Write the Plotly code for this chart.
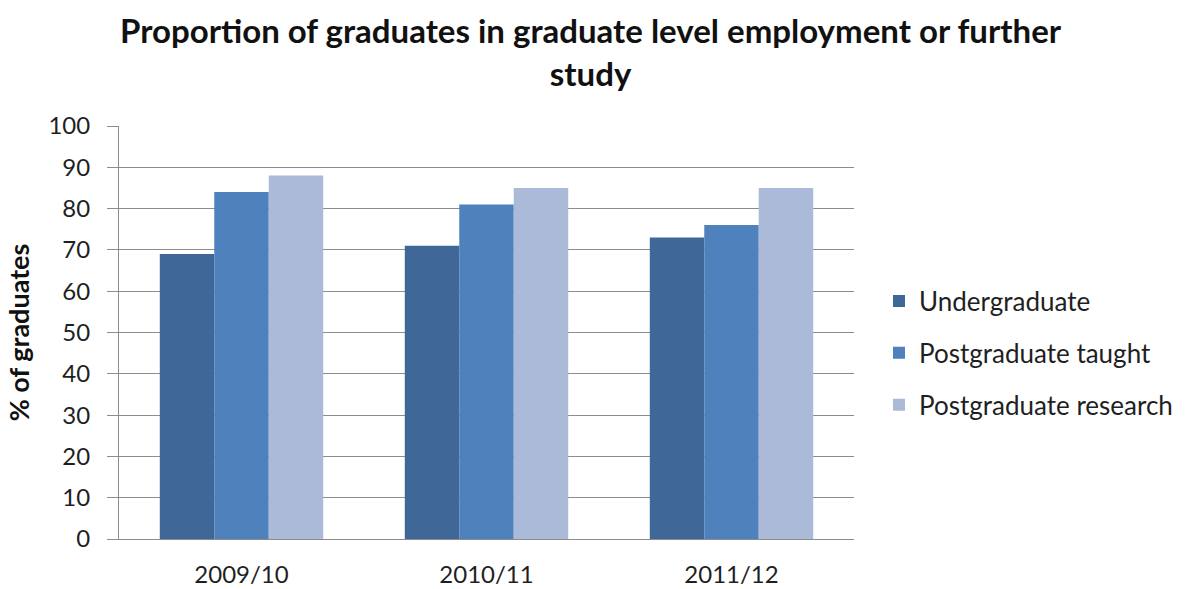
import plotly.graph_objects as go

# Academic years on the category axis
years = ["2009/10", "2010/11", "2011/12"]

# Percentage of graduates in graduate level employment or further study
undergraduate = [69, 71, 73]
pg_taught = [84, 81, 76]
pg_research = [88, 85, 85]

y_ticks = [0, 10, 20, 30, 40, 50, 60, 70, 80, 90, 100]

FONT = "Lato"
TEXT = "#1f1f1f"
GRID = "#8c8c8c"

series = [
    ("Undergraduate", undergraduate, "#3F6797"),
    ("Postgraduate taught", pg_taught, "#4F81BD"),
    ("Postgraduate research", pg_research, "#AABAD8"),
]

fig = go.Figure()
for i, (name, vals, color) in enumerate(series):
    fig.add_trace(go.Bar(
        x=years, y=vals, name=name, legendgroup=f"g{i}",
        marker=dict(color=color, line=dict(width=0)),
    ))

fig.update_layout(
    width=1190, height=589,
    margin=dict(l=119, r=336, t=126, b=50, autoexpand=False),
    paper_bgcolor="white", plot_bgcolor="white",
    barmode="group", bargap=0.333, bargroupgap=0,
    font=dict(family=FONT, color=TEXT, size=24),
    legend=dict(
        x=1.034, xanchor="left", y=0.45, yanchor="middle",
        font=dict(family=FONT, size=26, color=TEXT),
        tracegroupgap=15, itemwidth=30,
        bgcolor="rgba(0,0,0,0)",
    ),
    showlegend=True,
)

# Two-line chart title placed above the plot area
fig.add_annotation(
    text="<b>Proportion of graduates in graduate level employment or further<br>study</b>",
    xref="paper", yref="paper", x=0.642, y=1.285,
    xanchor="center", yanchor="top", showarrow=False,
    align="center",
    font=dict(family=FONT, size=33, color="#111111"),
)

fig.update_yaxes(
    range=[0, 100], tickvals=y_ticks,
    showgrid=True, gridcolor=GRID, gridwidth=1,
    showline=True, linecolor=GRID, linewidth=1,
    ticks="outside", ticklen=11, tickcolor=GRID,
    ticklabelstandoff=12,
    tickfont=dict(family=FONT, size=24, color=TEXT),
    title=dict(text="<b>% of graduates</b>", standoff=10,
               font=dict(family=FONT, size=27, color="#111111")),
    zeroline=False,
)
fig.update_xaxes(
    showline=True, linecolor=GRID, linewidth=1,
    ticks="", tickfont=dict(family=FONT, size=24, color=TEXT),
    ticklabelstandoff=14,
)

fig.write_html("out.html")
